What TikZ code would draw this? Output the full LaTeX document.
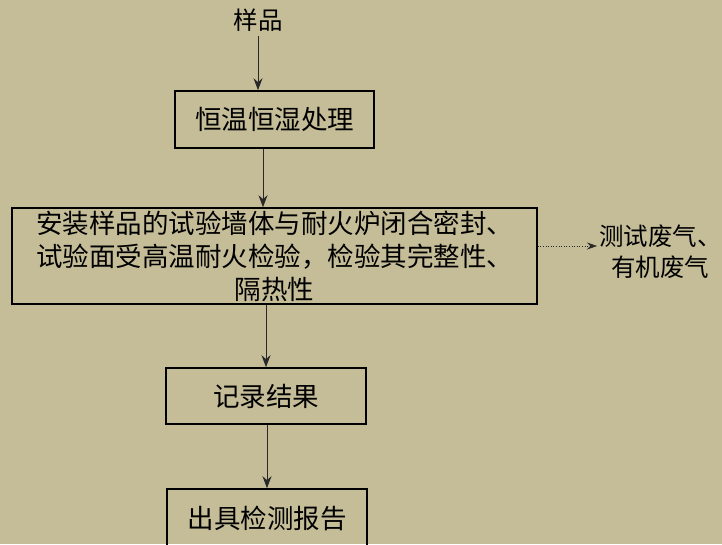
\documentclass[tikz,border=0pt]{standalone}
\usepackage{fontspec}
\setmainfont{Noto Sans CJK SC}
\usetikzlibrary{arrows.meta}
\definecolor{bgc}{RGB}{197,189,152}
\definecolor{lnc}{RGB}{40,40,40}
\begin{document}
\begin{tikzpicture}[x=1pt,y=-1pt,
  box/.style={draw=black,line width=1.6pt,inner sep=0pt,align=center,font=\fontsize{26.5}{33}\selectfont},
  conn/.style={draw=lnc,line width=0.8pt,-{Stealth[length=12pt,width=9pt]}},
  dotconn/.style={draw=lnc,line width=0.6pt,dotted,-{Stealth[length=10pt,width=7pt]}},
  lbl/.style={inner sep=0pt,align=center,font=\fontsize{24.5}{31}\selectfont}]
\fill[bgc] (0,0) rectangle (722,544);
\clip (0,0) rectangle (722,544);
\node[lbl] (sample) at (258,20) {样品};
\node[box,minimum width=199pt,minimum height=57pt] (b1) at (274.5,119.5) {恒温恒湿处理};
\node[box,minimum width=525pt,minimum height=96pt,text width=520pt] (b2) at (274.5,256) {安装样品的试验墙体与耐火炉闭合密封、\\试验面受高温耐火检验，检验其完整性、\\隔热性};
\node[box,minimum width=200pt,minimum height=56pt] (b3) at (266,396) {记录结果};
\node[box,minimum width=200pt,minimum height=58pt] (b4) at (267,518) {出具检测报告};
\node[lbl,anchor=west] (out) at (599,252) {测试废气、\\有机废气};
\coordinate (c1) at (258,36);
\coordinate (c2) at (263,0);
\coordinate (c3) at (266,0);
\coordinate (c4) at (267,0);
\coordinate (dt) at (597,246);
\draw[conn] (c1) -- (c1 |- b1.north);
\draw[conn] (b1.south -| c2) -- (b2.north -| c2);
\draw[conn] (b2.south -| c3) -- (b3.north -| c3);
\draw[conn] (b3.south -| c4) -- (b4.north -| c4);
\draw[dotconn] (b2.east |- dt) -- (dt);
\end{tikzpicture}
\end{document}
